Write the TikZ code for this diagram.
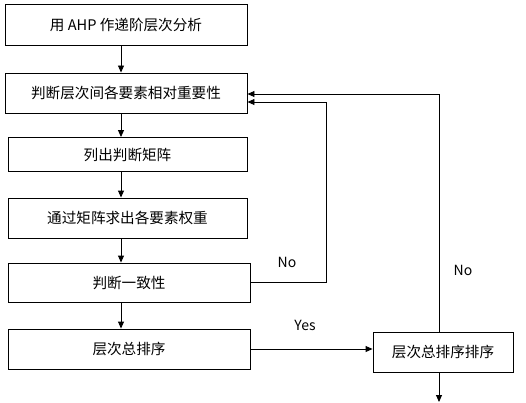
\documentclass[tikz,border=0pt]{standalone}
\usepackage{fontspec}
\setmainfont{Noto Sans CJK SC}
\usetikzlibrary{arrows.meta}
\begin{document}
\begin{tikzpicture}[x=1pt,y=-1pt,
  box/.style={draw,line width=0.9pt,rectangle,inner sep=0pt,font=\fontsize{14.6}{16}\selectfont},
  arr/.style={line width=0.9pt,-{Triangle[length=7pt,width=6pt]}},
  lbl/.style={font=\fontsize{14}{15}\selectfont,inner sep=0pt}]
\useasboundingbox (0,0) rectangle (526,403);
\node[box,minimum width=242pt,minimum height=41pt] (b1) at (126,24.5) {用 AHP 作递阶层次分析};
\node[box,minimum width=242pt,minimum height=40pt] (b2) at (126,93) {判断层次间各要素相对重要性};
\node[box,minimum width=239pt,minimum height=34pt] (b3) at (127.5,154.5) {列出判断矩阵};
\node[box,minimum width=239pt,minimum height=40pt] (b4) at (127.5,218) {通过矩阵求出各要素权重};
\node[box,minimum width=242pt,minimum height=39pt] (b5) at (129,282.5) {判断一致性};
\node[box,minimum width=242pt,minimum height=40pt] (b6) at (129,349) {层次总排序};
\node[box,minimum width=140pt,minimum height=40pt] (b7) at (443,352) {层次总排序排序};
\coordinate (ax) at (121,0);
\coordinate (outx) at (439,0);
\coordinate (inx) at (326,0);
\coordinate (end) at (439,402);
\draw[arr] (b1.south -| ax) -- (b2.north -| ax);
\draw[arr] (b2.south -| ax) -- (b3.north -| ax);
\draw[arr] (b3.south -| ax) -- (b4.north -| ax);
\draw[arr] (b4.south -| ax) -- (b5.north -| ax);
\draw[arr] (b5.south -| ax) -- (b6.north -| ax);
\draw[arr] (b6.east) -- (b6.east -| b7.west);
\draw[arr] (b7.north -| outx) |- ([yshift=-1pt]b2.east);
\draw[arr] (b5.east) -| (inx |- 0,102) -- (b2.east |- 0,102);
\draw[arr] (b7.south -| outx) -- (end);
\node[lbl] (no1) at (287,262) {No};
\node[lbl] (no2) at (463,270) {No};
\node[lbl] (yes) at (305,325) {Yes};
\end{tikzpicture}
\end{document}
